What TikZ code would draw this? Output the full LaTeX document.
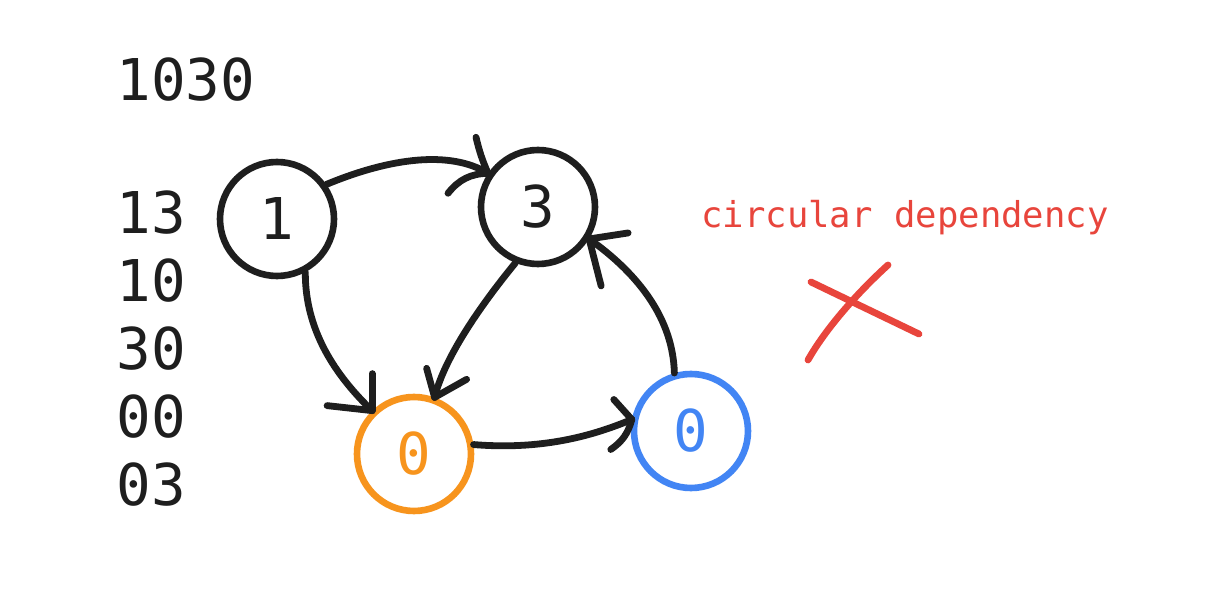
\documentclass[tikz,border=0pt]{standalone}
\usepackage{fontspec}
\setmonofont{DejaVu Sans Mono}
\definecolor{inkblack}{HTML}{1E1E1E}
\definecolor{inkred}{HTML}{E8453C}
\definecolor{inkorange}{HTML}{F7941D}
\definecolor{inkblue}{HTML}{4285F4}
\tikzset{
  vert/.style={circle,draw,line width=3.3pt,minimum size=57pt,inner sep=0pt,font=\ttfamily\fontsize{28.8}{30}\selectfont},
  edge/.style={draw=inkblack,line width=3.4pt,line cap=round,line join=round},
  lbl/.style={font=\ttfamily\fontsize{28.8}{30}\selectfont,text=inkblack,anchor=base west,inner sep=0pt},
}
\begin{document}
\begin{tikzpicture}[x=0.5pt,y=-0.5pt]
\useasboundingbox (0,0) rectangle (1212,604);
\fill[white] (0,0) rectangle (1212,604);
% side labels
\node[lbl] (t0) at (116,101) {1030};
\node[lbl] (t1) at (116,234) {13};
\node[lbl] (t2) at (116,302) {10};
\node[lbl] (t3) at (116,370) {30};
\node[lbl] (t4) at (116,438) {00};
\node[lbl] (t5) at (116,506) {03};
% vertices
\node[vert,draw=inkblack,text=inkblack] (n1) at (277,219) {1};
\node[vert,draw=inkblack,text=inkblack] (n3) at (538,207) {3};
\node[vert,draw=inkorange,text=inkorange] (na) at (414,454) {0};
\node[vert,draw=inkblue,text=inkblue] (nb) at (691,431) {0};
% edges
\draw[edge] (n1.35) .. controls (390,158) and (450,150) .. (n3.146);
\draw[edge] (n3.146) to[bend left=5] ++(-12,-36);
\draw[edge] (n3.146) to[bend right=25] ++(-40,20);

\draw[edge] (n1.-62) .. controls (305,330) and (335,375) .. (na.134);
\draw[edge] (na.134) -- ++(0,-37);
\draw[edge] (na.134) -- ++(-45,-5);

\draw[edge] (n3.-112) .. controls (485,300) and (445,355) .. (na.70);
\draw[edge] (na.70) -- ++(-8,-29);
\draw[edge] (na.70) -- ++(32,-18);

\draw[edge] (na.9) .. controls (540,450) and (590,437) .. (nb.169);
\draw[edge] (nb.169) -- ++(-18,-20);
\draw[edge] (nb.169) to[bend left=20] ++(-21,30);

\draw[edge] (nb.106) .. controls (673,320) and (640,275) .. (n3.-32);
\draw[edge] (n3.-32) -- ++(12,47);
\draw[edge] (n3.-32) -- ++(39,-6);
% annotation
\node[font=\ttfamily\fontsize{17.8}{20}\selectfont,text=inkred,anchor=base west,inner sep=0pt] (note) at (701,228) {circular dependency};
\coordinate (xa) at (811,282);
\coordinate (xb) at (919,334);
\coordinate (xc) at (808,360);
\coordinate (xd) at (888,265);
\draw[line width=3.4pt,draw=inkred,line cap=round] (xa) -- (xb);
\draw[line width=3.4pt,draw=inkred,line cap=round] (xc) .. controls (825,330) and (855,295) .. (xd);
\end{tikzpicture}
\end{document}
